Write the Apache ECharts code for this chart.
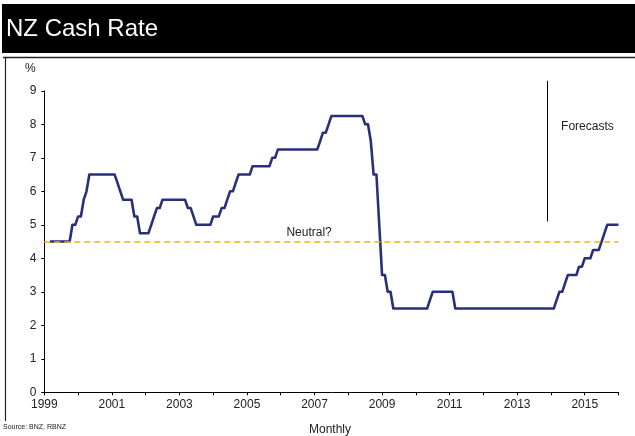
<!DOCTYPE html>
<html><head><meta charset="utf-8">
<script src="https://cdn.jsdelivr.net/npm/echarts@6/dist/echarts.min.js"></script>
<style>html,body{margin:0;padding:0;background:#fff}#c{width:635px;height:436px}</style>
</head><body><div id="c"></div>
<script>
// ---- data ----
const chartTitle = 'NZ Cash Rate';
const startYear = 1999, startMonth = 3;   // first monthly observation: Mar 1999
const rate1999 = [4.5,4.5,4.5,4.5,4.5,4.5,4.5,4.5,5.0,5.0];            // Mar-Dec
const rate2000 = [5.25,5.25,5.75,6.0,6.5,6.5,6.5,6.5,6.5,6.5,6.5,6.5];
const rate2001 = [6.5,6.5,6.25,6.0,5.75,5.75,5.75,5.75,5.25,5.25,4.75,4.75];
const rate2002 = [4.75,4.75,5.0,5.25,5.5,5.5,5.75,5.75,5.75,5.75,5.75,5.75];
const rate2003 = [5.75,5.75,5.75,5.5,5.5,5.25,5.0,5.0,5.0,5.0,5.0,5.0];
const rate2004 = [5.25,5.25,5.25,5.5,5.5,5.75,6.0,6.0,6.25,6.5,6.5,6.5];
const rate2005 = [6.5,6.5,6.75,6.75,6.75,6.75,6.75,6.75,6.75,7.0,7.0,7.25];
const rate2006 = [7.25,7.25,7.25,7.25,7.25,7.25,7.25,7.25,7.25,7.25,7.25,7.25];
const rate2007 = [7.25,7.25,7.5,7.75,7.75,8.0,8.25,8.25,8.25,8.25,8.25,8.25];
const rate2008 = [8.25,8.25,8.25,8.25,8.25,8.25,8.0,8.0,7.5,6.5,6.5,5.0];
const rate2009 = [3.5,3.5,3.0,3.0,2.5,2.5,2.5,2.5,2.5,2.5,2.5,2.5];
const rate2010 = [2.5,2.5,2.5,2.5,2.5,2.75,3.0,3.0,3.0,3.0,3.0,3.0];
const rate2011 = [3.0,3.0,2.5,2.5,2.5,2.5,2.5,2.5,2.5,2.5,2.5,2.5];
const rate2012 = [2.5,2.5,2.5,2.5,2.5,2.5,2.5,2.5,2.5,2.5,2.5,2.5];
const rate2013 = [2.5,2.5,2.5,2.5,2.5,2.5,2.5,2.5,2.5,2.5,2.5,2.5];
const rate2014 = [2.5,2.5,2.75,3.0,3.0,3.25,3.5,3.5,3.5,3.5,3.75,3.75];
const rate2015 = [4.0,4.0,4.0,4.25,4.25,4.25,4.5,4.75,5.0,5.0,5.0,5.0];
const rate2016 = [5.0];                                                 // Jan
const xMin = 1999, xMax = 2016;
const yTicks = [0,1,2,3,4,5,6,7,8,9];
const neutralRate = 4.5;
const neutralLabel = 'Neutral?';
const forecastMarkerX = 2013.88;
const forecastMarkerY = [5.1, 9.3];
const forecastLabel = 'Forecasts';
const forecastLabelPos = [2015.08, 7.92];
const neutralLabelPos = [2006.84, 4.5];
const yUnit = '%';
const sourceText = 'Source: BNZ, RBNZ';
const xAxisTitle = 'Monthly';

// ---- build ----
const allRates = [].concat(rate1999,rate2000,rate2001,rate2002,rate2003,rate2004,rate2005,
  rate2006,rate2007,rate2008,rate2009,rate2010,rate2011,rate2012,rate2013,rate2014,rate2015,rate2016);
const seriesData = allRates.map((v, i) => {
  const m = startMonth - 1 + i;
  const yr = startYear + Math.floor(m / 12);
  const mo = m % 12;
  return [yr + mo / 12, v];
});

const FONT = "'Liberation Sans', Arial, sans-serif";
const TXT = '#222';
const chart = echarts.init(document.getElementById('c'), null, {renderer: 'canvas'});
const option = {
  animation: false,
  backgroundColor: '#fff',
  grid: {left: 44.3, right: 16.5, top: 90.8, bottom: 43.7, containLabel: false},
  xAxis: {
    type: 'value', min: xMin, max: xMax, interval: 1,
    axisLine: {lineStyle: {color: '#000', width: 1}},
    axisTick: {show: true, length: 3, inside: false, lineStyle: {color: '#000'}},
    axisLabel: {
      fontFamily: FONT, fontSize: 12, color: TXT, margin: 6,
      formatter: v => ((v - xMin) % 2 === 0 ? String(v) : '')
    },
    splitLine: {show: false}
  },
  yAxis: {
    type: 'value', min: yTicks[0], max: yTicks[yTicks.length - 1], interval: 1,
    axisLine: {show: true, lineStyle: {color: '#000', width: 1}},
    axisTick: {show: true, length: 3, inside: false, lineStyle: {color: '#000'}},
    axisLabel: {fontFamily: FONT, fontSize: 12, color: TXT, margin: 8},
    splitLine: {show: false}
  },
  series: [{
    type: 'line', data: seriesData, showSymbol: false, z: 3,
    lineStyle: {color: '#2A2F7C', width: 2.6, join: 'round'},
    markLine: {
      silent: true, symbol: ['none', 'none'], z: 5,
      label: {show: false},
      lineStyle: {color: '#F7AE12', width: 1.6, type: [6, 4]},
      data: [{yAxis: neutralRate}]
    }
  }],
  graphic: []
};
chart.setOption(option);

const fp = chart.convertToPixel({gridIndex: 0}, [forecastMarkerX, forecastMarkerY[0]]);
const fp2 = chart.convertToPixel({gridIndex: 0}, [forecastMarkerX, forecastMarkerY[1]]);
const fl = chart.convertToPixel({gridIndex: 0}, forecastLabelPos);
const nl = chart.convertToPixel({gridIndex: 0}, neutralLabelPos);

chart.setOption({graphic: [
  {type: 'rect', shape: {x: 2, y: 4, width: 633, height: 49}, style: {fill: '#000'}, z: 10},
  {type: 'text', x: 6, y: 29, style: {text: chartTitle, fill: '#fff', font: '24px ' + FONT, textVerticalAlign: 'middle'}, z: 11},
  {type: 'line', shape: {x1: 3, y1: 57.5, x2: 635, y2: 57.5}, style: {stroke: '#222', lineWidth: 1.5}, z: 10},
  {type: 'line', shape: {x1: 5.5, y1: 57, x2: 5.5, y2: 421}, style: {stroke: '#222', lineWidth: 1.2}, z: 10},
  {type: 'text', x: 25, y: 69, style: {text: yUnit, fill: TXT, font: '12px ' + FONT, textVerticalAlign: 'middle'}, z: 10},
  {type: 'line', shape: {x1: Math.round(fp[0]) + 0.5, y1: fp2[1], x2: Math.round(fp[0]) + 0.5, y2: fp[1]}, style: {stroke: '#000', lineWidth: 1}, z: 10},
  {type: 'text', x: fl[0], y: fl[1], style: {text: forecastLabel, fill: TXT, font: '12px ' + FONT, textAlign: 'center', textVerticalAlign: 'middle'}, z: 10},
  {type: 'text', x: nl[0], y: nl[1] - 9, style: {text: neutralLabel, fill: TXT, font: '12px ' + FONT, textAlign: 'center', textVerticalAlign: 'middle'}, z: 10},
  {type: 'text', x: 3, y: 427, style: {text: sourceText, fill: TXT, font: '7px ' + FONT, textVerticalAlign: 'middle'}, z: 10},
  {type: 'text', x: 330, y: 430, style: {text: xAxisTitle, fill: TXT, font: '12px ' + FONT, textAlign: 'center', textVerticalAlign: 'middle'}, z: 10}
]});
</script>
</body></html>
